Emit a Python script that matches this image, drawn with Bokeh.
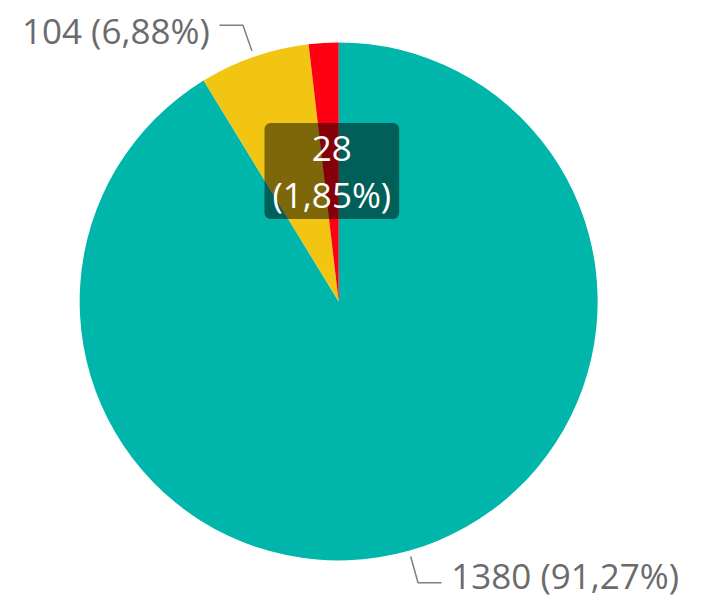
import numpy as np
from bokeh.plotting import figure
from bokeh.models import Range1d, Label
from bokeh.embed import file_html
from bokeh.resources import INLINE
from bokeh.core.properties import value

# ---- data ----
categories = ["Grupo 1", "Grupo 2", "Grupo 3"]
values = [1380, 104, 28]
colors = ["#00B6AA", "#F2C513", "#FF0012"]

W, H = 690, 600
p = figure(width=W, height=H, x_range=Range1d(0, 706), y_range=Range1d(0, 616),
           output_backend="svg", toolbar_location=None, min_border=0)
p.axis.visible = False
p.grid.visible = False
p.outline_line_color = None
p.background_fill_color = "white"
p.border_fill_color = "white"

cx, cy, r = 346, 307, 265
vals = np.array(values, dtype=float)
frac = vals / vals.sum()
cum = np.cumsum(frac)
start = np.pi / 2 - 2 * np.pi * (cum - frac)
end = np.pi / 2 - 2 * np.pi * cum
p.wedge(x=cx, y=cy, radius=r, start_angle=start, end_angle=end, direction="clock",
        fill_color=colors, line_color=None)

def fmt(v, f):
    return f"{v} ({f*100:.2f}%)".replace(".", ",")

FONT = value("Open Sans")
GRAY = "#6B6B6B"

# outside labels for slices 0 and 1
baseline_dy = {0: 7.5, 1: -5.3}
for i in (0, 1):
    mid = (start[i] + end[i]) / 2
    ux, uy = np.cos(mid), np.sin(mid)
    x0, y0 = cx + (r + 7) * ux, cy + (r + 7) * uy
    x1, y1 = cx + (r + 35) * ux, cy + (r + 35) * uy
    s = 1 if ux >= 0 else -1
    x2 = x1 + s * 24
    p.line([x0, x1, x2], [y0, y1, y1], line_color="#7F7F7F", line_width=1.5)
    p.text(x=[x2 + s * 10], y=[y1 + baseline_dy[i]], text=[fmt(values[i], frac[i])],
           text_font=FONT, text_font_size="35px", text_color=GRAY,
           text_align="left" if s > 0 else "right", text_baseline="alphabetic")

# boxed label for slice 2
lab = Label(x=339, y=616 - 175, text=fmt(values[2], frac[2]).replace(" ", "\n"),
            text_font="Open Sans", text_font_size="35px", text_color="white",
            text_align="center", text_baseline="middle", text_line_height=1.0,
            background_fill_color="black", background_fill_alpha=0.48,
            border_radius=6, padding=(8, 1))
p.add_layout(lab)

open("out.html", "w").write(file_html(p, INLINE))
